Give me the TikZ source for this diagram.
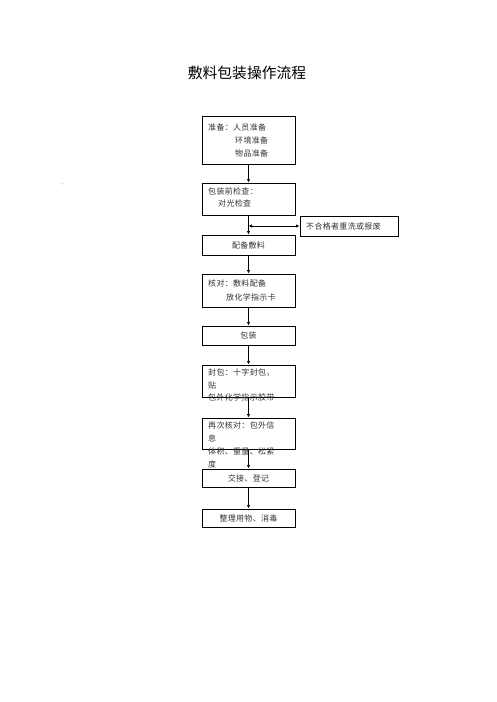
\documentclass[tikz,border=0pt]{standalone}
\usepackage{fontspec}
\newfontfamily\cjk[LetterSpace=4]{Noto Sans CJK SC}
\newfontfamily\cjktitle{Noto Sans CJK SC}
\usetikzlibrary{arrows.meta}
\begin{document}
\begin{tikzpicture}[x=1pt,y=-1pt,
  box/.style={draw=black,line width=1pt,minimum width=93pt,inner sep=0pt,font=\cjk\fontsize{8}{9}\selectfont,text=black!80},
  txt/.style={anchor=west,inner sep=0pt,font=\cjk\fontsize{8}{9}\selectfont,text=black!80},
  arr/.style={line width=1pt,-{Latex[length=3.5pt,width=3.5pt]}},
  darr/.style={line width=1pt,{Latex[length=3.5pt,width=3.5pt]}-{Latex[length=3.5pt,width=3.5pt]}}]
\useasboundingbox (0,0) rectangle (496,702);
\node[font=\cjktitle\fontsize{14.8}{16}\selectfont] (title) at (247,73) {敷料包装操作流程};
\node[inner sep=0pt,font=\fontsize{6}{6}\selectfont,text=black!60] (dot) at (63,185) {,};
% boxes
\node[box,minimum height=48pt] (b1) at (248.5,140) {};
\node[box,minimum height=32pt] (b2) at (248.5,199) {};
\node[box,minimum width=98pt,minimum height=20pt] (side) at (349,226) {};
\node[box,minimum height=20pt] (b3) at (248.5,245) {配备敷料};
\node[box,minimum height=33pt] (b4) at (248.5,290.5) {};
\node[box,minimum height=19pt] (b5) at (248.5,335.5) {包装};
\node[box,minimum height=32pt] (b6) at (248.5,381) {};
\node[box,minimum height=31pt] (b7) at (248.5,433.5) {};
\node[box,minimum height=18pt] (b8) at (248.5,478) {交接、登记};
\node[box,minimum height=18pt] (b9) at (248.5,518) {整理用物、消毒};
% texts
\node[txt] (ts) at (306,226) {不合格者重洗或报废};
\node[txt] (t1a) at (208,127) {准备：人员准备};
\node[txt] (t1b) at (235,140) {环境准备};
\node[txt] (t1c) at (235,153) {物品准备};
\node[txt] (t2a) at (208,191) {包装前检查：};
\node[txt] (t2b) at (218,203) {对光检查};
\node[txt] (t4a) at (208,283) {核对：敷料配备};
\node[txt] (t4b) at (226,297) {放化学指示卡};
\node[txt] (t6a) at (208,373) {封包：十字封包，};
\node[txt] (t6b) at (208,385) {贴};
\node[txt] (t6c) at (208,397) {包外化学指示胶带};
\node[txt] (t7a) at (208,425) {再次核对：包外信};
\node[txt] (t7b) at (208,438) {息};
\node[txt] (t7c) at (208,451) {体积、重量、松紧};
\node[txt] (t7d) at (208,464) {度};
% connectors
\draw[arr] (b1) -- (b2);
\draw[arr] (b2) -- (b3);
\coordinate (j) at (b2.south |- side.west);
\draw[darr] (j) -- (side.west);
\draw[arr] (b3) -- (b4);
\draw[arr] (b4) -- (b5);
\draw[arr] (b5) -- (b6);
\draw[arr] (b6) -- (b7);
\draw[arr] (b7) -- (b8);
\draw[arr] (b8) -- (b9);
\end{tikzpicture}
\end{document}
